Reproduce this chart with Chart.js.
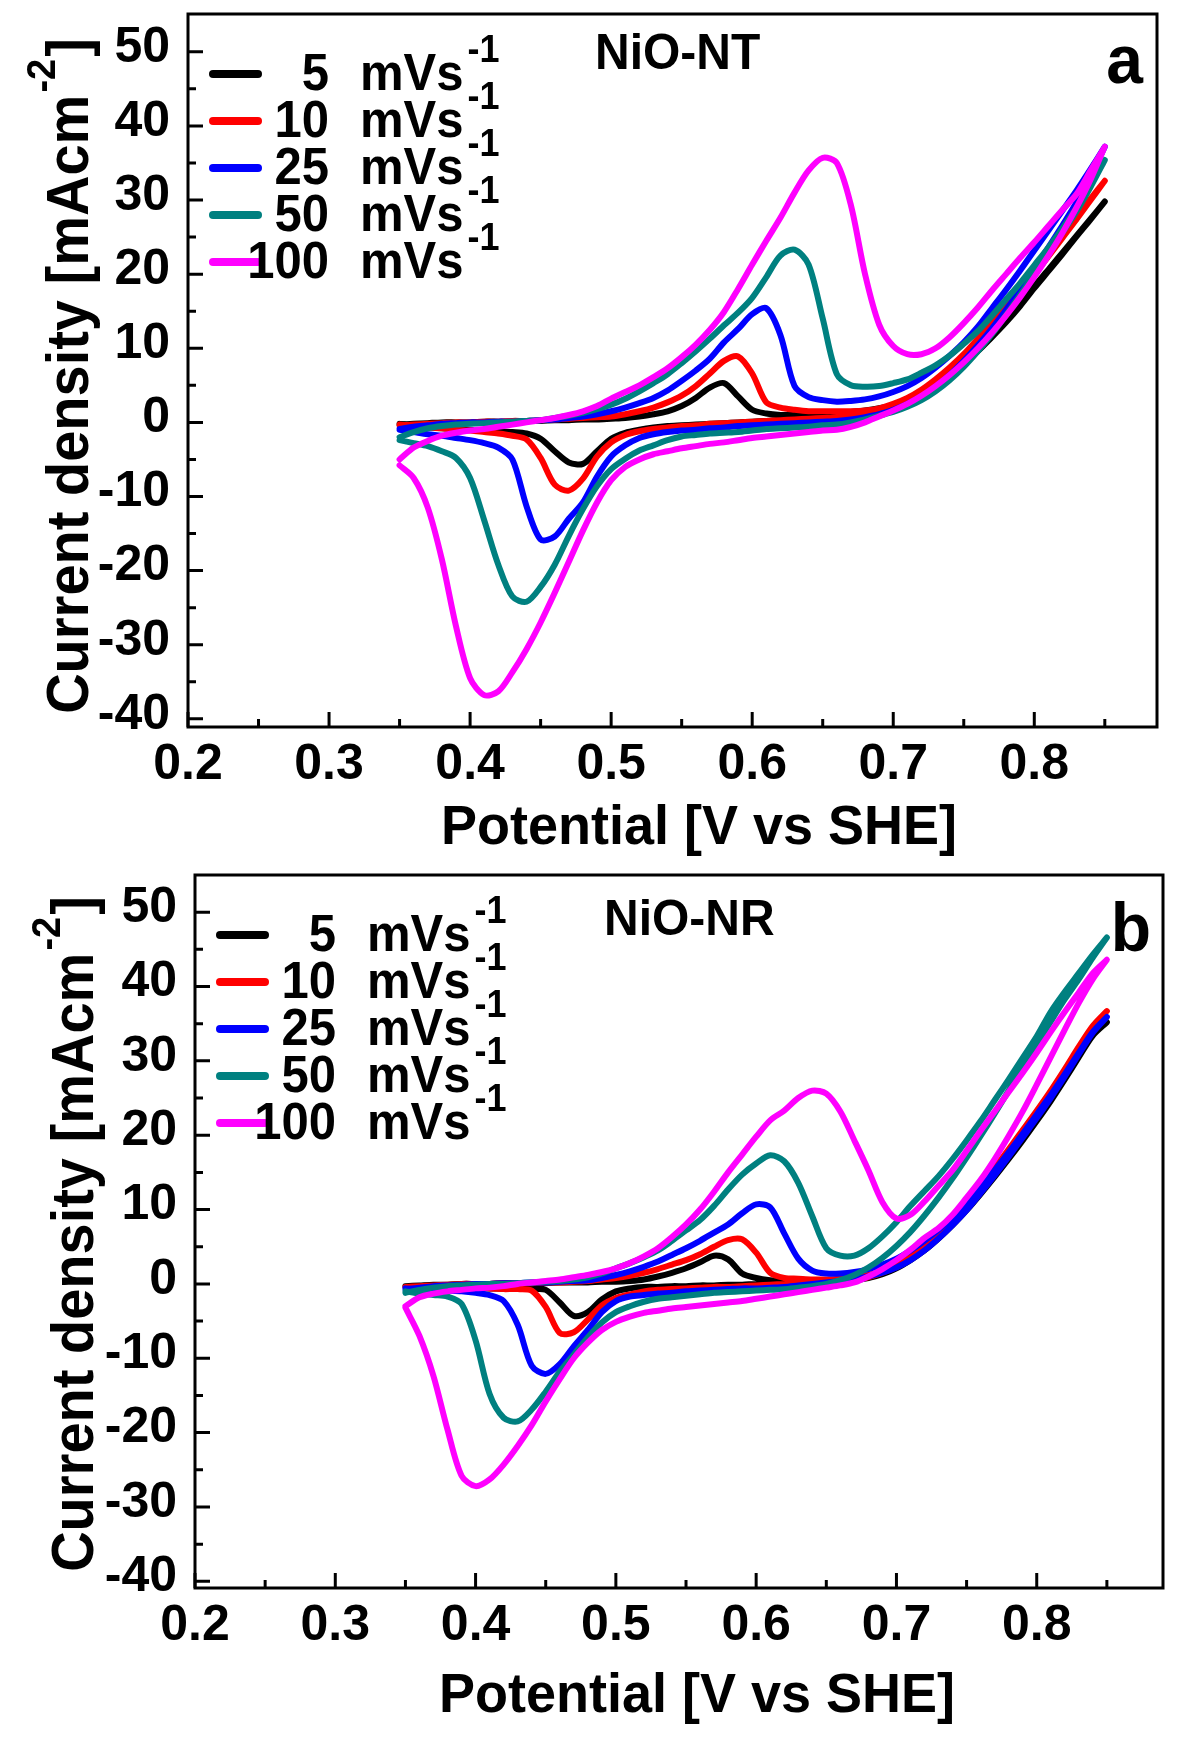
<!DOCTYPE html>
<html>
<head>
<meta charset="utf-8">
<script src="https://cdn.jsdelivr.net/npm/chart.js@4.4.1/dist/chart.umd.min.js"></script>
<style>
html,body{margin:0;padding:0;background:#ffffff;width:1200px;height:1753px;overflow:hidden;}
.panel{position:absolute;left:0;width:1200px;}
#p1{top:0;height:860px;}
#p2{top:860px;height:893px;}
canvas{display:block;}
</style>
</head>
<body>
<div class="panel" id="p1"><canvas id="c1" width="1200" height="860"></canvas></div>
<div class="panel" id="p2"><canvas id="c2" width="1200" height="893"></canvas></div>
<script>
// ---------------- DATA ----------------
const potential = [0.35,0.36,0.37,0.38,0.39,0.40,0.41,0.42,0.43,0.44,0.45,0.46,0.47,0.48,0.49,0.50,0.51,0.52,0.53,0.54,0.55,0.56,0.57,0.58,0.59,0.60,0.61,0.62,0.63,0.64,0.65,0.66,0.67,0.68,0.69,0.70,0.71,0.72,0.73,0.74,0.75,0.76,0.77,0.78,0.79,0.80,0.81,0.82,0.83,0.84,0.85];

const scanRates = ['5', '10', '25', '50', '100'];
const seriesColors = ['#000000', '#ff0000', '#0000ff', '#008080', '#ff00ff'];

const xTickValues = [0.2, 0.3, 0.4, 0.5, 0.6, 0.7, 0.8];
const xTickLabels = ['0.2', '0.3', '0.4', '0.5', '0.6', '0.7', '0.8'];
const xMinorValues = [0.25, 0.35, 0.45, 0.55, 0.65, 0.75, 0.85];
const yTickValues = [-40, -30, -20, -10, 0, 10, 20, 30, 40, 50];
const yTickLabels = ['-40', '-30', '-20', '-10', '0', '10', '20', '30', '40', '50'];
const yMinorValues = [-35, -25, -15, -5, 5, 15, 25, 35, 45];

// NiO-NT : anodic (forward) and cathodic (reverse) branches, mA cm-2
const ntFwd5   = [-0.3,-0.2,-0.1,0.0,0.0,0.0,0.1,0.1,0.1,0.2, 0.2,0.3,0.3,0.4,0.4,0.5,0.6,0.8,1.1,1.5, 2.2,3.3,4.7,5.3,3.5,1.7,1.2,1.0,1.0,1.0, 1.1,1.2,1.4,1.6,1.9,2.3,2.8,3.7,5.0,6.4, 8.0,9.9,11.8,13.8,16.0,18.4,20.6,22.9,25.2,27.5,29.8];
const ntRev5   = [-0.2,-0.4,-0.6,-0.8,-0.9,-1.0,-1.1,-1.2,-1.3,-1.5, -2.2,-3.9,-5.4,-5.6,-3.9,-2.2,-1.4,-1.0,-0.7,-0.5, -0.4,-0.3,-0.2,-0.1,0.0,0.1,0.2,0.3,0.4,0.5, 0.6,0.7,0.9,1.1,1.5,2.0,2.6,3.4,4.6,6.0, 7.7,9.6,11.5,13.5,15.7,18.1,20.4,22.7,25.1,27.4,29.8];
const ntFwd10  = [-0.4,-0.3,-0.2,-0.1,0.0,0.0,0.1,0.1,0.2,0.2, 0.3,0.4,0.5,0.6,0.7,0.8,1.1,1.5,2.0,2.7, 3.6,4.9,6.6,8.3,8.9,6.6,2.7,2.0,1.7,1.5, 1.5,1.5,1.5,1.6,1.9,2.5,3.3,4.4,5.8,7.4, 9.2,11.3,13.5,15.8,18.1,20.5,22.9,25.3,27.8,30.2,32.6];
const ntRev10  = [-0.3,-0.5,-0.7,-0.8,-1.0,-1.1,-1.3,-1.5,-1.8,-2.3, -4.8,-8.4,-9.2,-7.6,-4.6,-2.7,-1.7,-1.2,-0.9,-0.7, -0.5,-0.4,-0.2,-0.1,0.0,0.1,0.2,0.3,0.4,0.5, 0.6,0.7,0.9,1.2,1.6,2.1,2.8,3.8,5.1,6.7, 8.6,10.7,12.9,15.2,17.5,19.9,22.4,24.9,27.4,30.0,32.6];
const ntFwd25  = [-0.9,-0.6,-0.4,-0.2,-0.1,0.0,0.0,0.1,0.1,0.2, 0.3,0.4,0.6,0.8,1.1,1.5,2.0,2.6,3.3,4.3, 5.6,7.0,8.6,10.8,12.6,14.6,15.4,11.8,4.9,3.4, 3.0,2.8,2.9,3.1,3.5,4.1,4.9,6.0,7.4,9.0, 10.8,12.9,15.4,17.9,20.5,23.2,25.9,28.6,31.3,34.2,37.2];
const ntRev25  = [-1.0,-1.3,-1.6,-1.8,-2.1,-2.4,-2.8,-3.4,-5.0,-11.3, -15.8,-15.4,-13.0,-10.8,-7.3,-4.6,-3.1,-2.1,-1.6,-1.3, -1.1,-1.0,-0.8,-0.7,-0.5,-0.4,-0.3,-0.2,-0.1,0.0, 0.1,0.2,0.4,0.7,1.1,1.7,2.5,3.5,4.8,6.4, 8.3,10.4,12.7,15.2,17.9,20.7,23.6,26.6,29.7,33.2,37.2];
const ntFwd50  = [-2.0,-1.3,-0.8,-0.5,-0.3,-0.2,-0.1,0.0,0.1,0.2, 0.3,0.6,0.9,1.3,1.8,2.4,3.2,4.2,5.3,6.5, 8.0,9.6,11.3,13.1,14.8,16.8,19.6,22.5,23.3,21.3, 14.0,6.5,5.0,4.8,4.9,5.3,5.8,6.7,7.7,9.0, 10.6,12.3,14.4,16.6,18.8,21.2,23.6,26.2,29.0,32.1,35.4];
const ntRev50  = [-2.4,-2.8,-3.2,-3.9,-4.8,-7.5,-13.2,-19.2,-23.5,-24.2, -22.2,-19.2,-15.3,-11.7,-8.6,-6.3,-4.9,-3.8,-3.1,-2.4, -1.9,-1.7,-1.5,-1.4,-1.3,-1.1,-0.9,-0.8,-0.7,-0.6, -0.4,-0.3,0.0,0.4,0.9,1.4,2.1,3.0,4.2,5.7, 7.5,9.6,11.9,14.5,17.2,20.0,22.8,25.6,28.5,31.8,35.4];
const ntFwd100 = [-5.0,-3.4,-2.5,-1.8,-1.4,-1.1,-0.9,-0.6,-0.3,0.0, 0.3,0.6,1.0,1.5,2.2,3.2,4.1,5.0,6.1,7.3, 8.8,10.5,12.5,14.9,18.0,21.3,24.5,27.6,31.0,34.0, 35.7,35.0,29.3,20.0,13.2,10.3,9.2,9.2,10.0,11.5, 13.4,15.5,17.8,20.0,22.2,24.3,26.5,28.7,30.8,34.0,37.2];
const ntRev100 = [-5.8,-7.5,-11.5,-18.5,-27.5,-34.5,-36.8,-36.3,-33.7,-30.6, -27.0,-23.0,-18.8,-14.6,-10.8,-7.8,-6.0,-5.0,-4.3,-3.9, -3.5,-3.2,-2.9,-2.7,-2.4,-2.1,-1.9,-1.7,-1.5,-1.3, -1.1,-1.0,-0.6,0.0,0.8,1.6,2.5,3.6,4.9,6.4, 8.1,10.0,12.1,14.4,16.9,19.6,22.5,25.6,29.0,32.8,37.2];

// NiO-NR
const nrFwd5   = [-0.3,-0.2,-0.1,-0.1,0.0,0.0,0.0,0.1,0.1,0.1, 0.1,0.2,0.2,0.2,0.3,0.3,0.4,0.6,1.0,1.5, 2.1,2.9,3.8,3.3,1.4,0.8,0.5,0.4,0.4,0.4, 0.4,0.5,0.6,0.9,1.5,2.3,3.4,4.8,6.4,8.2, 10.2,12.4,14.7,17.1,19.6,22.2,24.9,27.8,30.8,33.6,35.2];
const nrRev5   = [-0.3,-0.4,-0.4,-0.5,-0.5,-0.5,-0.6,-0.6,-0.6,-0.7, -0.8,-2.5,-4.3,-3.8,-2.1,-1.0,-0.6,-0.4,-0.4,-0.3, -0.3,-0.2,-0.2,-0.1,-0.1,0.0,0.0,0.1,0.1,0.2, 0.3,0.4,0.5,0.8,1.3,2.1,3.2,4.5,6.1,7.9, 9.9,12.1,14.4,16.8,19.3,21.9,24.6,27.5,30.5,33.4,35.2];
const nrFwd10  = [-0.4,-0.3,-0.2,-0.1,0.0,0.0,0.0,0.1,0.1,0.1, 0.2,0.2,0.3,0.4,0.6,0.8,1.1,1.5,2.0,2.6, 3.2,4.0,5.0,5.9,6.0,4.2,1.5,0.8,0.7,0.6, 0.6,0.7,0.9,1.2,1.7,2.5,3.7,5.2,6.9,8.8, 10.9,13.2,15.6,18.1,20.7,23.3,26.0,28.9,31.9,34.7,36.7];
const nrRev10  = [-0.4,-0.4,-0.5,-0.5,-0.5,-0.6,-0.6,-0.7,-0.7,-0.9, -3.1,-6.6,-6.5,-4.8,-2.9,-1.9,-1.4,-1.0,-0.8,-0.7, -0.6,-0.5,-0.4,-0.4,-0.3,-0.2,-0.1,0.0,0.1,0.2, 0.3,0.4,0.6,0.9,1.5,2.3,3.4,4.8,6.5,8.4, 10.5,12.8,15.2,17.7,20.3,22.9,25.7,28.6,31.6,34.6,36.7];
const nrFwd25  = [-0.7,-0.5,-0.3,-0.2,-0.1,0.0,0.0,0.1,0.1,0.2, 0.2,0.3,0.4,0.5,0.8,1.2,1.7,2.3,3.0,3.9, 4.8,5.8,6.9,8.0,9.5,10.7,10.3,6.8,3.4,1.8, 1.4,1.4,1.6,2.0,2.6,3.4,4.5,5.8,7.3,9.0, 10.9,13.0,15.3,17.7,20.2,22.8,25.4,28.2,31.1,33.9,35.9];
const nrRev25  = [-0.6,-0.7,-0.8,-0.9,-1.0,-1.2,-1.5,-2.3,-5.5,-11.0, -12.1,-10.8,-8.4,-6.2,-3.8,-2.3,-1.7,-1.5,-1.3,-1.2, -1.0,-0.9,-0.8,-0.7,-0.6,-0.6,-0.5,-0.4,-0.2,0.0, 0.2,0.4,0.7,1.0,1.5,2.2,3.2,4.5,6.1,7.9, 9.9,12.2,14.6,17.1,19.7,22.3,25.0,27.9,30.9,33.8,35.9];
const nrFwd50  = [-1.2,-0.8,-0.5,-0.3,-0.2,-0.1,0.0,0.0,0.1,0.2, 0.3,0.4,0.6,0.9,1.4,2.1,2.8,3.6,4.5,5.8, 7.2,8.6,10.5,12.7,14.7,16.2,17.3,16.5,13.6,9.1, 4.8,3.8,3.8,4.8,6.4,8.3,10.5,12.5,14.5,16.8, 19.3,21.9,24.7,27.5,30.4,33.3,36.6,39.3,41.8,44.3,46.6];
const nrRev50  = [-1.0,-1.3,-1.5,-1.7,-2.7,-7.6,-14.8,-18.0,-18.5,-16.9, -14.5,-11.8,-9.5,-7.2,-5.2,-3.8,-3.0,-2.4,-2.0,-1.8, -1.6,-1.4,-1.2,-1.1,-1.0,-0.9,-0.8,-0.7,-0.5,-0.3, 0.0,0.5,1.2,2.2,3.5,5.1,7.0,9.2,11.6,14.2, 17.0,19.9,22.9,26.0,29.1,32.2,35.3,38.3,41.0,43.9,46.6];
const nrFwd100 = [-3.0,-1.8,-1.3,-1.0,-0.8,-0.6,-0.5,-0.3,0.0,0.2, 0.4,0.6,0.9,1.2,1.6,2.1,2.8,3.7,4.8,6.3, 8.0,10.0,12.4,15.0,17.4,19.8,22.0,23.3,25.0,26.0, 25.6,23.2,19.3,15.3,11.0,8.8,9.3,11.1,13.2,15.3, 17.9,20.6,23.2,25.8,28.4,31.1,33.9,36.6,39.2,41.8,43.6];
const nrRev100 = [-3.2,-7.0,-12.4,-19.6,-25.8,-27.2,-26.3,-24.3,-21.8,-19.0, -15.8,-12.8,-10.0,-7.9,-6.2,-5.1,-4.4,-3.9,-3.6,-3.3, -3.1,-2.9,-2.7,-2.5,-2.3,-2.0,-1.7,-1.4,-1.1,-0.8, -0.5,-0.2,0.2,1.0,2.0,3.2,4.6,6.2,7.5,9.3, 11.6,14.0,16.8,19.9,23.2,26.8,30.5,34.2,37.8,41.0,43.6];

// ---------------- TEXT ----------------
const xTitle = 'Potential [V vs SHE]';
const yTitleMain = 'Current density [mAcm';
const yTitleSup = '-2';
const yTitleEnd = ']';
const unitText = 'mVs';
const unitSup = '-1';

// ---------------- LAYOUT ----------------
const FAMILY = "'Liberation Sans', Arial, Helvetica, sans-serif";
const panels = [
  { canvas: 'c1', name: 'NiO-NT', letter: 'a', height: 860,
    fwd: [ntFwd5, ntFwd10, ntFwd25, ntFwd50, ntFwd100],
    rev: [ntRev5, ntRev10, ntRev25, ntRev50, ntRev100],
    xMin: 0.2, xMax: 0.887, yMin: -41.1, yMax: 55.1,
    area: { left: 188, top: 14, right: 1157, bottom: 727 },
    xTitleX: 699, xTitleBase: 844, yTitleX: 88, yTitleY: 376,
    nameX: 595, nameBase: 69, letterX: 1143, letterBase: 83 },
  { canvas: 'c2', name: 'NiO-NR', letter: 'b', height: 893,
    fwd: [nrFwd5, nrFwd10, nrFwd25, nrFwd50, nrFwd100],
    rev: [nrRev5, nrRev10, nrRev25, nrRev50, nrRev100],
    xMin: 0.2, xMax: 0.89, yMin: -40.9, yMax: 55.0,
    area: { left: 195, top: 15, right: 1163, bottom: 728 },
    xTitleX: 697, xTitleBase: 852, yTitleX: 93, yTitleY: 374,
    nameX: 604, nameBase: 75, letterX: 1151, letterBase: 91 }
];

function loopPoints(fwd, rev) {
  const pts = [];
  for (let i = 0; i < potential.length; i++) pts.push({ x: potential[i], y: fwd[i] });
  for (let i = potential.length - 1; i >= 0; i--) pts.push({ x: potential[i], y: rev[i] });
  return pts;
}

function font(size) { return 'bold ' + size + 'px ' + FAMILY; }

// draws text slightly stretched vertically, like the reference figure
function stretchText(ctx, s, x, y, size, align, sy) {
  ctx.save();
  ctx.translate(x, y);
  ctx.scale(1, sy || 1.07);
  ctx.font = font(size);
  ctx.textAlign = align;
  ctx.textBaseline = 'alphabetic';
  ctx.fillText(s, 0, 0);
  const w = ctx.measureText(s).width;
  ctx.restore();
  return w;
}

function makeDecor(p) {
  return {
    id: 'decor_' + p.canvas,
    afterDraw(chart) {
      const ctx = chart.ctx;
      const a = chart.chartArea;
      const xs = chart.scales.x, ys = chart.scales.y;
      ctx.save();
      // frame
      ctx.strokeStyle = '#000';
      ctx.lineWidth = 3;
      ctx.strokeRect(a.left, a.top, a.right - a.left, a.bottom - a.top);
      // inward ticks
      ctx.lineWidth = 3;
      ctx.beginPath();
      xTickValues.forEach(v => { const px = xs.getPixelForValue(v); ctx.moveTo(px, a.bottom); ctx.lineTo(px, a.bottom - 15); });
      xMinorValues.forEach(v => { if (v <= xs.max) { const px = xs.getPixelForValue(v); ctx.moveTo(px, a.bottom); ctx.lineTo(px, a.bottom - 8); } });
      yTickValues.forEach(v => { const py = ys.getPixelForValue(v); ctx.moveTo(a.left, py); ctx.lineTo(a.left + 15, py); });
      yMinorValues.forEach(v => { const py = ys.getPixelForValue(v); ctx.moveTo(a.left, py); ctx.lineTo(a.left + 8, py); });
      ctx.stroke();

      ctx.fillStyle = '#000';
      // x title
      stretchText(ctx, xTitle, p.xTitleX, p.xTitleBase, 54, 'center', 1.04);
      // y title (rotated, with superscript)
      ctx.save();
      ctx.translate(p.yTitleX, p.yTitleY);
      ctx.rotate(-Math.PI / 2);
      ctx.scale(1, 1.06);
      ctx.textAlign = 'left';
      ctx.textBaseline = 'alphabetic';
      ctx.font = font(56); const w1 = ctx.measureText(yTitleMain).width;
      ctx.font = font(38); const w2 = ctx.measureText(yTitleSup).width;
      ctx.font = font(56); const w3 = ctx.measureText(yTitleEnd).width;
      const tot = w1 + w2 + w3 + 4;
      const x0 = -tot / 2;
      ctx.font = font(56); ctx.fillText(yTitleMain, x0, 0);
      ctx.font = font(38); ctx.fillText(yTitleSup, x0 + w1 + 2, -31);
      ctx.font = font(56); ctx.fillText(yTitleEnd, x0 + w1 + w2 + 4, 0);
      ctx.restore();
      // panel name and letter
      stretchText(ctx, p.name, p.nameX, p.nameBase, 48, 'left', 1.06);
      stretchText(ctx, p.letter, p.letterX, p.letterBase, 66, 'right', 1.04);
      // legend
      for (let k = 0; k < scanRates.length; k++) {
        const base = a.top + 76 + 47 * k;
        const ly = base - 16;
        ctx.strokeStyle = seriesColors[k];
        ctx.lineWidth = 8;
        ctx.lineCap = 'round';
        ctx.beginPath();
        ctx.moveTo(a.left + 25, ly);
        ctx.lineTo(a.left + 70, ly);
        ctx.stroke();
        ctx.fillStyle = '#000';
        stretchText(ctx, scanRates[k], a.left + 141, base, 49, 'right', 1.07);
        const wu = stretchText(ctx, unitText, a.left + 172, base, 49, 'left', 1.07);
        stretchText(ctx, unitSup, a.left + 172 + wu + 4, base - 28, 36, 'left', 1.07);
      }
      ctx.restore();
    }
  };
}

panels.forEach(p => {
  const datasets = scanRates.map((r, k) => ({
    label: r + ' mVs-1',
    data: loopPoints(p.fwd[k], p.rev[k]),
    borderColor: seriesColors[k],
    backgroundColor: seriesColors[k],
    borderWidth: 6,
    pointRadius: 0,
    showLine: true,
    fill: false,
    tension: 0.3,
    borderCapStyle: 'round',
    borderJoinStyle: 'round',
    order: scanRates.length - 1 - k
  }));
  const tickFont = { family: FAMILY, size: 50, weight: 'bold' };
  new Chart(document.getElementById(p.canvas), {
    type: 'scatter',
    data: { datasets },
    options: {
      responsive: false,
      animation: false,
      events: [],
      layout: { padding: { left: 0, top: p.area.top, right: 1200 - p.area.right, bottom: 0 } },
      plugins: { legend: { display: false }, tooltip: { enabled: false }, title: { display: false } },
      scales: {
        x: {
          type: 'linear', min: p.xMin, max: p.xMax,
          grid: { display: false, drawTicks: false },
          border: { display: false },
          afterBuildTicks: s => { s.ticks = xTickValues.map(v => ({ value: v })); },
          ticks: { autoSkip: false, maxRotation: 0, color: '#000', font: tickFont, padding: 8,
                   callback: (v, i) => xTickLabels[i] },
          afterFit: s => { s.height = p.height - p.area.bottom; s.paddingLeft = 0; s.paddingRight = 0; }
        },
        y: {
          type: 'linear', min: p.yMin, max: p.yMax,
          grid: { display: false, drawTicks: false },
          border: { display: false },
          afterBuildTicks: s => { s.ticks = yTickValues.map(v => ({ value: v })); },
          ticks: { autoSkip: false, color: '#000', font: tickFont, padding: 18, labelOffset: -4,
                   callback: (v, i) => yTickLabels[i] },
          afterFit: s => { s.width = p.area.left; s.paddingTop = 0; s.paddingBottom = 0; }
        }
      }
    },
    plugins: [makeDecor(p)]
  });
});
</script>
</body>
</html>
